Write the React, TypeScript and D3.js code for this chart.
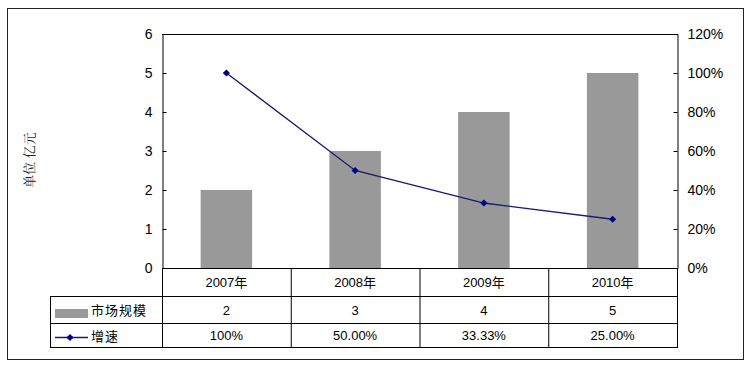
import React, { useEffect, useRef } from 'react';
import * as d3 from 'd3';

const years = ['2007年', '2008年', '2009年', '2010年'];
const marketSize = [2, 3, 4, 5];
const growth = [1.0, 0.5, 0.3333, 0.25];
const growthLabels = ['100%', '50.00%', '33.33%', '25.00%'];
const leftTicks = [0, 1, 2, 3, 4, 5, 6];
const rightTicks = [0, 0.2, 0.4, 0.6, 0.8, 1.0, 1.2];

const FONT = '"Liberation Sans", Arial, "Noto Sans CJK SC", sans-serif';

const App = () => {
    const svgRef = useRef<SVGSVGElement>(null);

    useEffect(() => {
        const svg = d3.select(svgRef.current);
        svg.selectAll('*').remove();

        const W = 750, H = 366;
        const plot = { left: 162, right: 677, top: 34, bottom: 268 };
        const tableLeft = 50;
        const rowBounds = [268, 296, 323, 347];

        svg.attr('width', W).attr('height', H);

        // outer frame
        svg.append('rect')
            .attr('x', 7.5).attr('y', 8.5)
            .attr('width', 736).attr('height', 351)
            .attr('fill', '#fff').attr('stroke', '#222').attr('stroke-width', 1);

        const x = d3.scaleBand()
            .domain(years)
            .range([plot.left, plot.right])
            .paddingInner(0).paddingOuter(0);

        const yLeft = d3.scaleLinear().domain([0, 6]).range([plot.bottom, plot.top]);
        const yRight = d3.scaleLinear().domain([0, 1.2]).range([plot.bottom, plot.top]);

        // bars
        const barW = x.bandwidth() * 0.4;
        svg.append('g').selectAll('rect')
            .data(marketSize)
            .enter().append('rect')
            .attr('x', (d, i) => x(years[i])! + (x.bandwidth() - barW) / 2)
            .attr('y', d => yLeft(d))
            .attr('width', barW)
            .attr('height', d => plot.bottom - yLeft(d))
            .attr('fill', '#999999');

        // growth line
        const line = d3.line<number>()
            .x((d, i) => x(years[i])! + x.bandwidth() / 2)
            .y(d => yRight(d));

        svg.append('path')
            .datum(growth)
            .attr('d', line)
            .attr('fill', 'none')
            .attr('stroke', '#1a1a6e')
            .attr('stroke-width', 1.3);

        // square diamonds, like the excel marker
        const marker = d3.symbol(d3.symbolSquare, 26)();
        svg.append('g').selectAll('path')
            .data(growth)
            .enter().append('path')
            .attr('d', marker)
            .attr('transform', (d, i) => `translate(${x(years[i])! + x.bandwidth() / 2},${yRight(d)}) rotate(45)`)
            .attr('fill', '#000080');

        // axes
        const leftAxis = d3.axisLeft(yLeft).tickValues(leftTicks).tickSize(-4).tickPadding(10).tickFormat(d3.format('d'));
        const gL = svg.append('g').attr('transform', `translate(${plot.left + 0.5},0)`).call(leftAxis);
        gL.select('.domain').attr('stroke', '#000');
        gL.selectAll('.tick line').attr('stroke', '#000');
        gL.selectAll('.tick text').attr('font-size', '14px').attr('font-family', FONT).attr('fill', '#000');

        const rightAxis = d3.axisRight(yRight).tickValues(rightTicks).tickSize(-4).tickPadding(10).tickFormat(d3.format('.0%'));
        const gR = svg.append('g').attr('transform', `translate(${plot.right + 0.5},0)`).call(rightAxis);
        gR.select('.domain').attr('stroke', '#000');
        gR.selectAll('.tick line').attr('stroke', '#000');
        gR.selectAll('.tick text').attr('font-size', '14px').attr('font-family', FONT).attr('fill', '#000');

        // top border of plot
        svg.append('line')
            .attr('x1', plot.left).attr('x2', plot.right + 1)
            .attr('y1', plot.top + 0.5).attr('y2', plot.top + 0.5)
            .attr('stroke', '#000');

        // y label
        svg.append('text')
            .attr('transform', `translate(34,160) rotate(-90)`)
            .attr('text-anchor', 'middle')
            .attr('font-size', '13px')
            .attr('font-family', '"Noto Serif CJK SC", "Noto Sans CJK SC", serif')
            .attr('fill', '#222')
            .text('单位 亿元');

        // data table
        const table = svg.append('g').attr('stroke', '#000').attr('stroke-width', 1);
        rowBounds.forEach((yy, i) => {
            table.append('line')
                .attr('x1', i === 0 ? plot.left : tableLeft).attr('x2', plot.right + 1)
                .attr('y1', yy + 0.5).attr('y2', yy + 0.5);
        });
        table.append('line')
            .attr('x1', tableLeft + 0.5).attr('x2', tableLeft + 0.5)
            .attr('y1', rowBounds[1]).attr('y2', rowBounds[3] + 1);
        years.forEach(yr => {
            table.append('line')
                .attr('x1', x(yr)! + 0.5).attr('x2', x(yr)! + 0.5)
                .attr('y1', rowBounds[0]).attr('y2', rowBounds[3] + 1);
        });
        table.append('line')
            .attr('x1', plot.right + 0.5).attr('x2', plot.right + 0.5)
            .attr('y1', rowBounds[0]).attr('y2', rowBounds[3] + 1);

        const cellText = (row: number, values: string[]) => {
            svg.append('g').selectAll('text')
                .data(values)
                .enter().append('text')
                .attr('x', (d, i) => x(years[i])! + x.bandwidth() / 2)
                .attr('y', (rowBounds[row] + rowBounds[row + 1]) / 2 + 5)
                .attr('text-anchor', 'middle')
                .attr('font-size', '13px')
                .attr('font-family', FONT)
                .attr('fill', '#000')
                .text(d => d);
        };
        cellText(0, years);
        cellText(1, marketSize.map(String));
        cellText(2, growthLabels);

        // legend keys
        svg.append('rect')
            .attr('x', 55).attr('y', 309).attr('width', 33).attr('height', 9)
            .attr('fill', '#999999');
        svg.append('text')
            .attr('x', 91).attr('y', 315)
            .attr('font-size', '13px').attr('font-family', FONT).attr('fill', '#000')
            .attr('letter-spacing', '1px')
            .text('市场规模');

        svg.append('line')
            .attr('x1', 55).attr('x2', 88).attr('y1', 337.5).attr('y2', 337.5)
            .attr('stroke', '#1a1a6e').attr('stroke-width', 1.3);
        svg.append('path')
            .attr('d', marker)
            .attr('transform', 'translate(70,337.5) rotate(45)')
            .attr('fill', '#000080');
        svg.append('text')
            .attr('x', 91).attr('y', 341)
            .attr('font-size', '13px').attr('font-family', FONT).attr('fill', '#000')
            .attr('letter-spacing', '1px')
            .text('增速');
    }, []);

    return <svg ref={svgRef} style={{ display: 'block', position: 'absolute', left: 0, top: 0 }}></svg>;
};

export default App;
